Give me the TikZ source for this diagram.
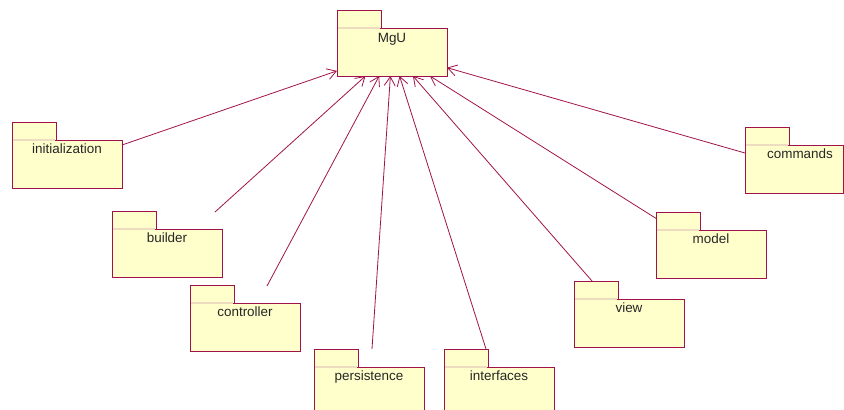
\documentclass[tikz,border=0pt]{standalone}
\usepackage{fontspec}
\setmainfont{Liberation Sans}
\usetikzlibrary{arrows.meta,calc}
\definecolor{pkgline}{HTML}{A0134A}
\definecolor{pkgfill}{HTML}{FFFFCC}
\definecolor{tabsep}{HTML}{EEDCC0}
\tikzset{
  pkgbody/.style={draw=pkgline, fill=pkgfill, line width=0.9bp, minimum width=110bp,
    minimum height=48bp, inner sep=0pt, outer sep=0pt, anchor=north west},
  pkgtab/.style={draw=pkgline, fill=pkgfill, line width=0.9bp},
  tabline/.style={draw=tabsep, line width=1.3bp},
  pkgname/.style={anchor=base, inner sep=0pt, font=\fontsize{13.5}{16}\selectfont, text=black!85},
  dep/.style={draw=pkgline, line width=0.8bp,
    -{Straight Barb[length=9bp,width=11bp,line width=0.8bp]}},
}
\newcommand\pkgdraw[4][110]{%
  \node[pkgbody, minimum width=#1bp] (#2) at (#3) {};
  \draw[pkgtab] (#2.north west) rectangle ++(44,-18);
  \draw[tabline] ($(#2.north west)+(0.9,0)$) -- ++(42.2,0);
}
\begin{document}
\begin{tikzpicture}[x=1bp,y=-1bp]
  \useasboundingbox (0,0) rectangle (844,409);
  \clip (0,0) rectangle (844,409);

  \pkgdraw{mgu}{337,28}{}
  \node[pkgname] (mgu-name) at ($(mgu.north)+(0,14)$) {MgU};

  \pkgdraw{initialization}{12,140}{}
  \node[pkgname] (initialization-name) at ($(initialization.north)+(0,13.5)$) {initialization};

  \pkgdraw{builder}{112,229}{}
  \node[pkgname] (builder-name) at ($(builder.north)+(0,13.5)$) {builder};

  \pkgdraw{controller}{190,303}{}
  \node[pkgname] (controller-name) at ($(controller.north)+(0,13.5)$) {controller};

  \pkgdraw{persistence}{314,367}{}
  \node[pkgname] (persistence-name) at ($(persistence.north)+(0,13.5)$) {persistence};

  \pkgdraw{interfaces}{444,367}{}
  \node[pkgname] (interfaces-name) at ($(interfaces.north)+(0,13.5)$) {interfaces};

  \pkgdraw{view}{574,299}{}
  \node[pkgname] (view-name) at ($(view.north)+(0,13.5)$) {view};

  \pkgdraw{model}{656,230}{}
  \node[pkgname] (model-name) at ($(model.north)+(0,13.5)$) {model};

  \pkgdraw[98]{commands}{745,145}{}
  \node[pkgname] (commands-name) at ($(commands.north west)+(55,13.5)$) {commands};

  % connector ports on the packages
  \coordinate (p-init) at (122,145);
  \coordinate (p-builder) at (215,212);
  \coordinate (p-controller) at (267,286);
  \coordinate (p-persist) at (372,349);
  \coordinate (p-interf) at (486,349);
  \coordinate (p-view) at (592,281);
  \coordinate (p-model) at (657,219);
  \coordinate (p-commands) at (745,153);

  \foreach \p in {p-init,p-builder,p-controller,p-persist,p-interf,p-view,p-model,p-commands}
    \draw[dep] (\p) -- (mgu);
\end{tikzpicture}
\end{document}
